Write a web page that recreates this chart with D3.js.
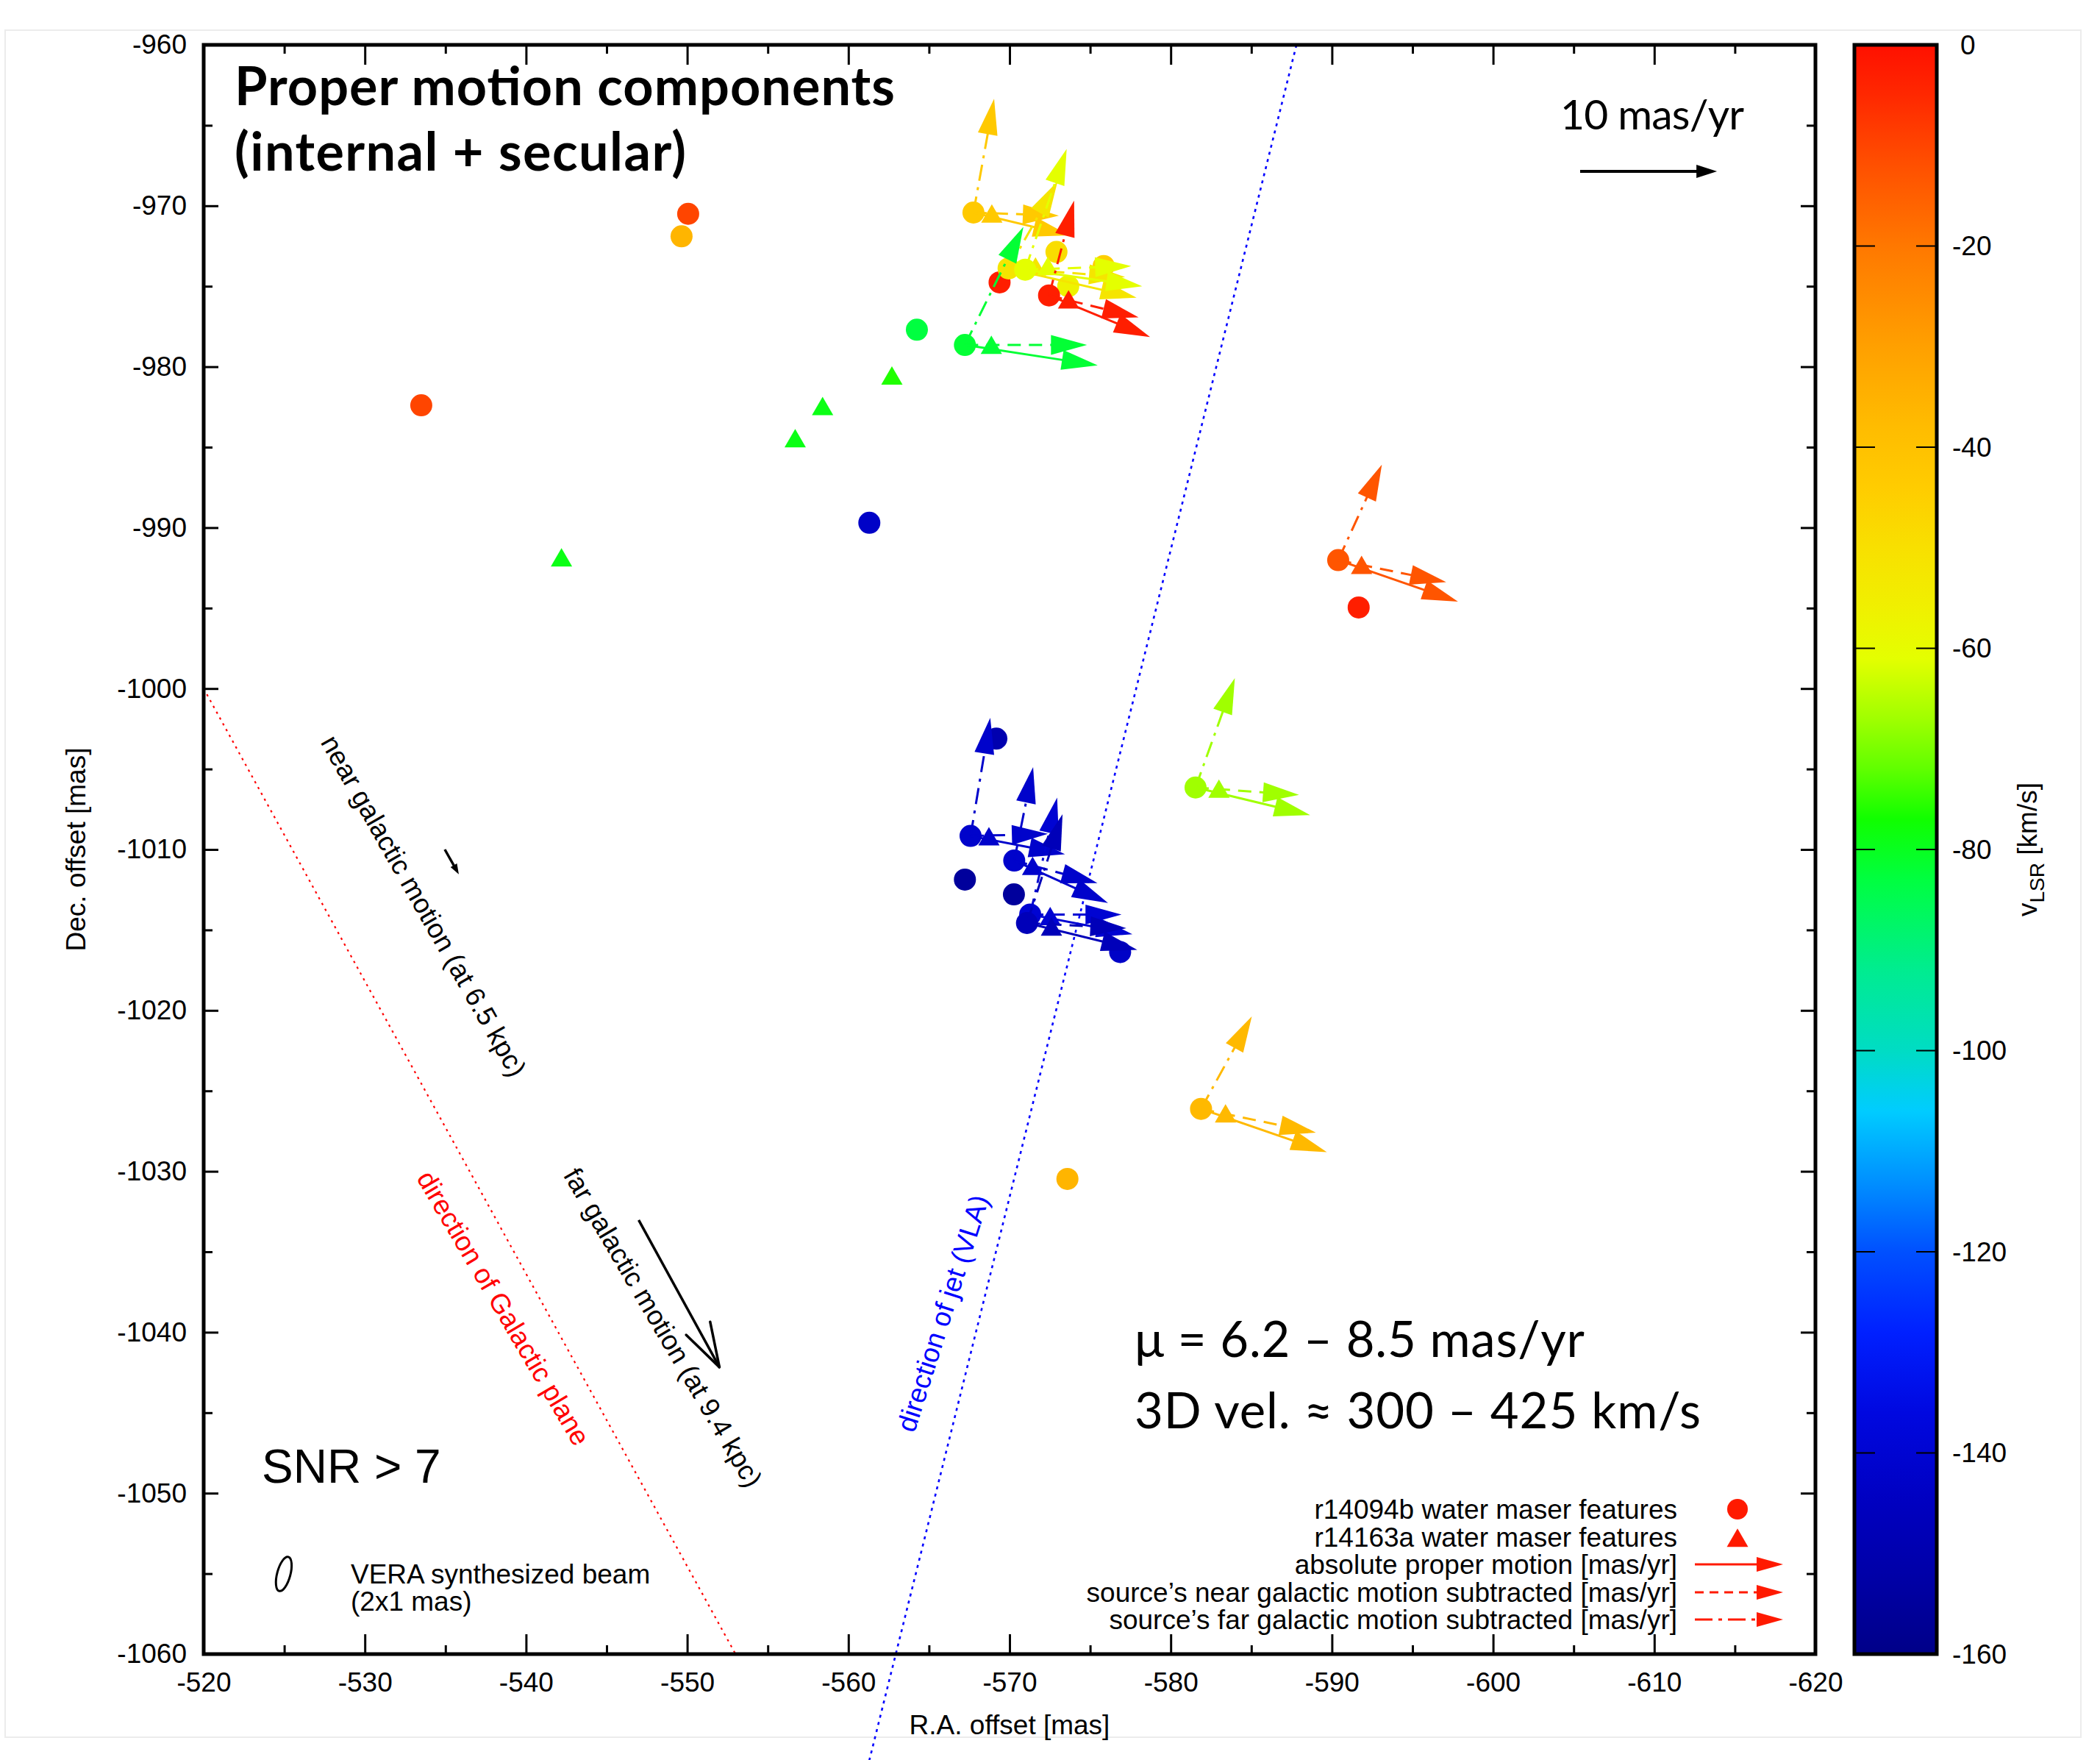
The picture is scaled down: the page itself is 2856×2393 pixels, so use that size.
<!DOCTYPE html>
<html><head><meta charset="utf-8">
<script src="https://cdn.jsdelivr.net/npm/d3@7"></script>
<style>body{margin:0;background:#fff} svg{display:block}</style>
</head><body>
<svg id="c" width="2856" height="2393"></svg>
<script>
// ---------------- DATA ----------------
const xTicks = d3.range(-520, -621, -10);
const yTicks = d3.range(-960, -1061, -10);
const xMinor = d3.range(-525, -620, -10);
const yMinor = d3.range(-965, -1060, -10);
const cbTicks = d3.range(0, -161, -20);

// features with proper motions (circle = r14094b position, triangle = r14163a position)
const featX   = [-567.76, -569.94, -570.97, -572.45, -567.23, -590.39, -581.54, -581.88, -567.58, -570.29, -571.28, -571.08];
const featY   = [-970.42, -973.89, -973.97, -975.57, -978.65, -992.02, -1006.15, -1026.12, -1009.16, -1010.69, -1014.04, -1014.57];
const featV   = [-43, -52, -61, -3, -82, -13, -67, -37, -142, -142, -140, -147];
const triX    = [-568.90, -571.61, -572.37, -573.66, -568.87, -591.84, -582.99, -583.40, -568.72, -571.43, -572.52, -572.60];
const triY    = [-970.54, -973.82, -973.80, -975.87, -978.69, -992.37, -1006.27, -1026.45, -1009.24, -1011.07, -1014.19, -1014.84];
// proper motions [mas/yr]: RA (east +), Dec (north +)
const absMuRA  = [-6.99, -9.35, -8.55, -7.38, -9.70, -8.75, -8.37, -9.19, -6.90, -6.85, -7.47, -8.06];
const absMuDec = [-1.67, -2.15, -1.22, -3.04, -1.49, -3.04, -2.02, -3.17, -1.34, -3.10, -1.44, -1.97];
const nearMuRA  = [-6.24, -8.51, -7.74, -6.54, -8.92, -7.89, -7.56, -8.39, -5.65, -6.08, -6.67, -7.26];
const nearMuDec = [-0.23, -0.63, 0.27, -1.61, 0.00, -1.61, -0.54, -1.74, 0.15, -1.65, 0.00, -0.38];
const farMuRA  = [-1.51, -3.58, -3.03, -1.83, -4.27, -3.19, -2.87, -3.71, -1.44, -1.38, -1.97, -2.60];
const farMuDec = [8.33, 6.36, 8.84, 6.94, 8.64, 6.99, 8.01, 6.77, 8.64, 6.84, 8.55, 7.97];

// other r14094b features (circles)
const circX = [-533.5, -550.06, -549.65, -564.25, -561.3, -569.38, -572.91, -573.64, -575.84, -591.66, -573.59, -569.18, -567.23, -570.27, -576.86];
const circY = [-982.4, -970.5, -971.9, -977.7, -989.7, -974.76, -972.87, -975.00, -973.74, -994.96, -1030.47, -1003.11, -1011.87, -1012.79, -1016.37];
const circV = [-10, -10, -36, -83, -143, -3, -49, -57, -45, -3, -36, -150, -155, -155, -143];
// other r14163a features (triangles)
const triOnlyX = [-562.7, -558.4, -556.7, -542.2];
const triOnlyY = [-980.6, -982.5, -984.5, -991.9];
const triOnlyV = [-76, -79, -79, -79];

// reference lines / vectors (data coordinates)
const planeLine = [[-520, -1000], [-553, -1060]];
const jetLine = [[-587.8, -960], [-561.3, -1066.6]];
const nearGal = [[-534.96, -1010.0], [-535.83, -1011.54]];
const farGal = [[-546.99, -1033.03], [-552.0, -1042.17]];
const scaleArrowStart = [-605.4, -967.86];
const scaleArrowMu = 10;
const muScale = 0.8493; // mas of plot per mas/yr

const legendLabels = ["r14094b water maser features", "r14163a water maser features",
  "absolute proper motion [mas/yr]", "source\u2019s near galactic motion subtracted [mas/yr]",
  "source\u2019s far galactic motion subtracted [mas/yr]"];

// palette
const palV = [0,-5,-12,-20,-30,-38,-44,-50,-56,-61,-67,-72,-77,-83,-92,-100,-106,-113,-120,-128,-136,-145,-152,-160];
const palC = ['#ff1000','#ff2800','#ff5000','#ff7800','#ffa000','#ffbc00','#ffcc00','#f8e000','#f0f000','#e4ff00','#a0ff00','#60ff00','#10ff00','#00ff40','#00ec90','#00dcc4','#00ccff','#0090ff','#0050ff','#0020ff','#0008e0','#0000c0','#0000a8','#000088'];

// ---------------- DRAW ----------------
const svg = d3.select('#c');
const L = 277, R = 2469, T = 61, B = 2249;
const x = d3.scaleLinear().domain([-520, -620]).range([L, R]);
const y = d3.scaleLinear().domain([-960, -1060]).range([T, B]);
const color = d3.scaleLinear().domain(palV).range(palC).interpolate(d3.interpolateRgb);
const SANS = "'Liberation Sans', Arial, Helvetica, sans-serif";
const GILL = "Lato, 'Open Sans', sans-serif";
const FS = 37;

svg.append('rect').attr('width', 2856).attr('height', 2393).attr('fill', '#fff');
// faint scan border
svg.append('rect').attr('x', 7).attr('y', 41).attr('width', 2823).attr('height', 2321)
  .attr('fill', 'none').attr('stroke', '#ececec').attr('stroke-width', 2);

function styleAxis(g) {
  g.select('.domain').remove();
  g.selectAll('line').attr('stroke', '#000').attr('stroke-width', 3);
  g.selectAll('text').attr('font-family', SANS).attr('font-size', FS).attr('fill', '#000');
}
const fmt = d => String(d);
svg.append('g').attr('transform', `translate(0,${B})`)
  .call(d3.axisBottom(x).tickValues(xTicks).tickSize(-27).tickPadding(25).tickFormat(fmt)).call(styleAxis);
svg.append('g').attr('transform', `translate(0,${B})`)
  .call(d3.axisBottom(x).tickValues(xMinor).tickSize(-12).tickFormat('')).call(styleAxis);
svg.append('g').attr('transform', `translate(0,${T})`)
  .call(d3.axisTop(x).tickValues(xTicks).tickSize(-27).tickFormat('')).call(styleAxis);
svg.append('g').attr('transform', `translate(0,${T})`)
  .call(d3.axisTop(x).tickValues(xMinor).tickSize(-12).tickFormat('')).call(styleAxis);
svg.append('g').attr('transform', `translate(${L},0)`)
  .call(d3.axisLeft(y).tickValues(yTicks).tickSize(-20).tickPadding(23).tickFormat(fmt)).call(styleAxis);
svg.append('g').attr('transform', `translate(${L},0)`)
  .call(d3.axisLeft(y).tickValues(yMinor).tickSize(-12).tickFormat('')).call(styleAxis);
svg.append('g').attr('transform', `translate(${R},0)`)
  .call(d3.axisRight(y).tickValues(yTicks).tickSize(-20).tickFormat('')).call(styleAxis);
svg.append('g').attr('transform', `translate(${R},0)`)
  .call(d3.axisRight(y).tickValues(yMinor).tickSize(-12).tickFormat('')).call(styleAxis);

svg.append('text').attr('x', (L + R) / 2).attr('y', 2358).attr('text-anchor', 'middle')
  .attr('font-family', SANS).attr('font-size', FS).text('R.A. offset [mas]');
svg.append('text').attr('transform', `translate(116,${(T + B) / 2}) rotate(-90)`).attr('text-anchor', 'middle')
  .attr('font-family', SANS).attr('font-size', FS).text('Dec. offset [mas]');

// reference lines
svg.append('line').attr('x1', x(planeLine[0][0])).attr('y1', y(planeLine[0][1]))
  .attr('x2', x(planeLine[1][0])).attr('y2', y(planeLine[1][1]))
  .attr('stroke', '#ff0000').attr('stroke-width', 2.2).attr('stroke-dasharray', '3,6');
svg.append('line').attr('x1', x(jetLine[0][0])).attr('y1', y(jetLine[0][1]))
  .attr('x2', x(jetLine[1][0])).attr('y2', y(jetLine[1][1]))
  .attr('stroke', '#0000ff').attr('stroke-width', 2.6).attr('stroke-dasharray', '4,6');

function drawArrow(g, x1, y1, x2, y2, c, dash, o = {}) {
  const hl = o.hl || 49, hw = o.hw || 13.5, sw = o.sw || 3;
  const dx = x2 - x1, dy = y2 - y1, len = Math.hypot(dx, dy);
  const ux = dx / len, uy = dy / len;
  const bx = x2 - ux * hl, by = y2 - uy * hl;
  g.append('line').attr('x1', x1).attr('y1', y1).attr('x2', bx + ux * 2).attr('y2', by + uy * 2)
    .attr('stroke', c).attr('stroke-width', sw).attr('stroke-dasharray', dash || null);
  g.append('path').attr('d', `M${x2},${y2}L${bx - uy * hw},${by + ux * hw}L${bx + uy * hw},${by - ux * hw}Z`)
    .attr('fill', c);
}
function triPath(cx, cy, w = 29, h = 25) {
  return `M${cx},${cy - h * 0.55}L${cx + w / 2},${cy + h * 0.45}L${cx - w / 2},${cy + h * 0.45}Z`;
}

const gPts = svg.append('g');
circX.forEach((cx, i) => gPts.append('circle').attr('cx', x(cx)).attr('cy', y(circY[i])).attr('r', 15).attr('fill', color(circV[i])));
triOnlyX.forEach((tx, i) => gPts.append('path').attr('d', triPath(x(tx), y(triOnlyY[i]))).attr('fill', color(triOnlyV[i])));

const DASH = '18,11', DASHDOT = '22,9,4,9';
featX.forEach((fx, i) => {
  const c = color(featV[i]);
  const g = svg.append('g');
  const px = x(fx), py = y(featY[i]);
  g.append('circle').attr('cx', px).attr('cy', py).attr('r', 15).attr('fill', c);
  g.append('path').attr('d', triPath(x(triX[i]), y(triY[i]))).attr('fill', c);
  drawArrow(g, px, py, x(fx + farMuRA[i] * muScale), y(featY[i] + farMuDec[i] * muScale), c, DASHDOT);
  drawArrow(g, px, py, x(fx + nearMuRA[i] * muScale), y(featY[i] + nearMuDec[i] * muScale), c, DASH);
  drawArrow(g, px, py, x(fx + absMuRA[i] * muScale), y(featY[i] + absMuDec[i] * muScale), c, null);
});

// galactic motion vectors
drawArrow(svg, x(nearGal[0][0]), y(nearGal[0][1]), x(nearGal[1][0]), y(nearGal[1][1]), '#000', null, {hl: 14, hw: 5, sw: 3.5});
(function () {
  const x1 = x(farGal[0][0]), y1 = y(farGal[0][1]), x2 = x(farGal[1][0]), y2 = y(farGal[1][1]);
  svg.append('line').attr('x1', x1).attr('y1', y1).attr('x2', x2).attr('y2', y2).attr('stroke', '#000').attr('stroke-width', 3.5);
  const a = Math.atan2(y1 - y2, x1 - x2);
  [-0.3, 0.3].forEach(d => svg.append('line').attr('x1', x2).attr('y1', y2)
    .attr('x2', x2 + 63 * Math.cos(a + d)).attr('y2', y2 + 63 * Math.sin(a + d))
    .attr('stroke', '#000').attr('stroke-width', 3.5).attr('stroke-linecap', 'round'));
})();

// scale arrow
drawArrow(svg, x(scaleArrowStart[0]), y(scaleArrowStart[1]),
  x(scaleArrowStart[0] - scaleArrowMu * muScale), y(scaleArrowStart[1]), '#000', null, {hl: 28, hw: 9, sw: 4});
svg.append('text').attr('x', 2122).attr('y', 176).attr('font-family', GILL).attr('font-size', 57)
  .attr('textLength', 250).text('10 mas/yr');

// title
svg.append('text').attr('x', 319).attr('y', 143).attr('font-family', GILL).attr('font-weight', 700).attr('font-size', 72)
  .attr('textLength', 898).text('Proper motion components');
svg.append('text').attr('x', 319).attr('y', 232).attr('font-family', GILL).attr('font-weight', 700).attr('font-size', 72)
  .attr('textLength', 614).text('(internal + secular)');

// big annotations
svg.append('text').attr('x', 1543).attr('y', 1845).attr('font-family', GILL).attr('font-size', 67)
  .attr('textLength', 612).text('\u03bc = 6.2 \u2013 8.5 mas/yr');
svg.append('text').attr('x', 1543).attr('y', 1942).attr('font-family', GILL).attr('font-size', 67)
  .attr('textLength', 770).text('3D vel. \u2248 300 \u2013 425 km/s');
svg.append('text').attr('x', 356).attr('y', 2016).attr('font-family', SANS).attr('font-size', 64).text('SNR > 7');

// rotated labels
function rotLabel(mx, my, ang, txt, c) {
  svg.append('text').attr('transform', `translate(${x(mx)},${y(my)}) rotate(${ang})`)
    .attr('text-anchor', 'middle').attr('dy', '0.35em').attr('font-family', SANS).attr('font-size', FS)
    .attr('fill', c).text(txt);
}
rotLabel(-533.66, -1013.5, 60.4, 'near galactic motion (at 6.5 kpc)', '#000');
rotLabel(-548.51, -1039.7, 59.6, 'far galactic motion (at 9.4 kpc)', '#000');
rotLabel(-538.61, -1038.5, 59.5, 'direction of Galactic plane', '#ff0000');
rotLabel(-565.85, -1038.82, -72.3, 'direction of jet (VLA)', '#0000ff');

// beam
svg.append('ellipse').attr('transform', `translate(${x(-524.97)},${y(-1055.02)}) rotate(15)`)
  .attr('rx', 9).attr('ry', 24).attr('fill', 'none').attr('stroke', '#000').attr('stroke-width', 3);
svg.append('text').attr('x', 477).attr('y', 2153).attr('font-family', SANS).attr('font-size', FS).text('VERA synthesized beam');
svg.append('text').attr('x', 477).attr('y', 2190).attr('font-family', SANS).attr('font-size', FS).text('(2x1 mas)');

// legend
const legY = [2052, 2090, 2127, 2165, 2202];
const legRed = '#ff1a00';
legendLabels.forEach((t, i) => svg.append('text').attr('x', 2281).attr('y', legY[i] + 13).attr('text-anchor', 'end')
  .attr('font-family', SANS).attr('font-size', FS).text(t));
svg.append('circle').attr('cx', 2363).attr('cy', legY[0]).attr('r', 14).attr('fill', legRed);
svg.append('path').attr('d', triPath(2363, legY[1] + 2)).attr('fill', legRed);
drawArrow(svg, 2305, legY[2], 2425, legY[2], legRed, null, {hl: 36, hw: 10});
drawArrow(svg, 2305, legY[3], 2425, legY[3], legRed, '12,8', {hl: 36, hw: 10});
drawArrow(svg, 2305, legY[4], 2425, legY[4], legRed, '24,8,5,8', {hl: 36, hw: 10});

// frame
svg.append('rect').attr('x', L).attr('y', T).attr('width', R - L).attr('height', B - T)
  .attr('fill', 'none').attr('stroke', '#000').attr('stroke-width', 5);

// colorbar
const cbx0 = 2522, cbx1 = 2634;
const cb = d3.scaleLinear().domain([0, -160]).range([T, B]);
const grad = svg.append('defs').append('linearGradient').attr('id', 'cbg').attr('x1', 0).attr('y1', 0).attr('x2', 0).attr('y2', 1);
palV.forEach((v, i) => grad.append('stop').attr('offset', (-v / 160)).attr('stop-color', palC[i]));
svg.append('rect').attr('x', cbx0).attr('y', T).attr('width', cbx1 - cbx0).attr('height', B - T).attr('fill', 'url(#cbg)');
cbTicks.slice(1, -1).forEach(v => {
  svg.append('line').attr('x1', cbx0).attr('x2', cbx0 + 28).attr('y1', cb(v)).attr('y2', cb(v)).attr('stroke', '#000').attr('stroke-width', 2);
  svg.append('line').attr('x1', cbx1 - 28).attr('x2', cbx1).attr('y1', cb(v)).attr('y2', cb(v)).attr('stroke', '#000').attr('stroke-width', 2);
});
svg.append('rect').attr('x', cbx0).attr('y', T).attr('width', cbx1 - cbx0).attr('height', B - T)
  .attr('fill', 'none').attr('stroke', '#000').attr('stroke-width', 5);
cbTicks.forEach(v => svg.append('text').attr('x', v === 0 ? 2666 : 2655).attr('y', cb(v)).attr('dy', '0.35em')
  .attr('font-family', SANS).attr('font-size', FS).text(String(v)));
const cbl = svg.append('text').attr('transform', `translate(2770,${(T + B) / 2}) rotate(-90)`).attr('text-anchor', 'middle')
  .attr('font-family', SANS).attr('font-size', FS);
cbl.append('tspan').text('v');
cbl.append('tspan').attr('font-size', 28).attr('dy', 10).text('LSR');
cbl.append('tspan').attr('dy', -10).text(' [km/s]');
</script>
</body></html>
